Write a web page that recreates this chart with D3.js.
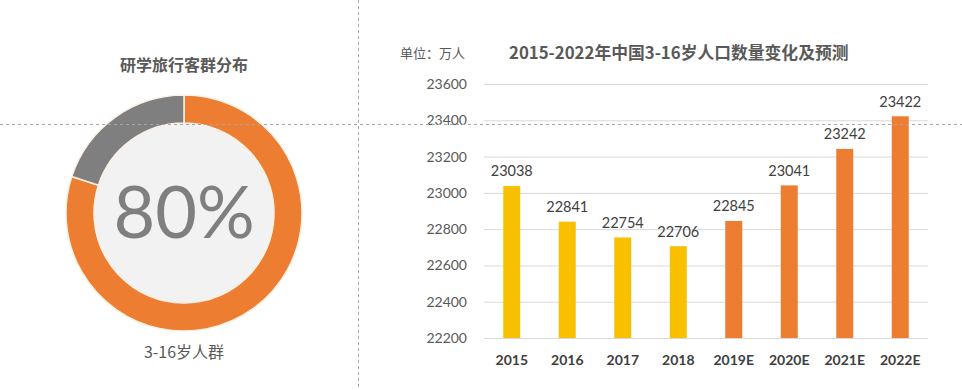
<!DOCTYPE html>
<html>
<head>
<meta charset="utf-8">
<script src="https://cdn.jsdelivr.net/npm/d3@7"></script>
<style>
  html, body { margin: 0; padding: 0; background: #fff; }
  svg { display: block; }
</style>
</head>
<body>
<div id="chart"></div>
<script>
// donut data
const donutLabels = ['3-16岁人群', '其他']
const donutValues = [80, 20]

// bar data
const years = ['2015', '2016', '2017', '2018', '2019E', '2020E', '2021E', '2022E']
const population = [23038, 22841, 22754, 22706, 22845, 23041, 23242, 23422]
const yTicks = [22200, 22400, 22600, 22800, 23000, 23200, 23400, 23600]

const width = 962
const height = 390
const cjk = '"Noto Sans CJK SC", "Microsoft YaHei", sans-serif'
const latin = 'Lato, "Noto Sans CJK SC", sans-serif'

const svg = d3.select('#chart').append('svg')
    .attr('width', width)
    .attr('height', height)

// ---- donut ----
const cx = 184, cy = 213
const outerR = 118, innerR = 90

const pie = d3.pie()
    .sort(null)
    .value(d => d)

const arc = d3.arc()
    .innerRadius(innerR)
    .outerRadius(outerR)

const donut = svg.append('g')
    .attr('transform', `translate(${ cx }, ${ cy })`)

donut.append('circle')
    .attr('r', innerR)
    .attr('fill', '#f2f2f2')

donut.selectAll('path')
    .data(pie(donutValues))
    .enter()
    .append('path')
    .attr('d', arc)
    .attr('fill', (d, i) => i === 0 ? '#ed7d31' : '#7f7f7f')
    .attr('stroke', '#fdf1e4')
    .attr('stroke-width', 1.5)

donut.append('text')
    .attr('text-anchor', 'middle')
    .attr('y', 25)
    .attr('font-family', latin)
    .attr('font-size', 72)
    .attr('fill', '#7f7f7f')
    .text(donutValues[0] + '%')

svg.append('text')
    .attr('x', cx)
    .attr('y', 71)
    .attr('text-anchor', 'middle')
    .attr('font-family', cjk)
    .attr('font-weight', 'bold')
    .attr('font-size', 16)
    .attr('fill', '#595959')
    .text('研学旅行客群分布')

svg.append('text')
    .attr('x', cx)
    .attr('y', 358)
    .attr('text-anchor', 'middle')
    .attr('font-family', cjk)
    .attr('font-size', 16)
    .attr('fill', '#595959')
    .text(donutLabels[0])

// ---- bar chart ----
const x = d3.scaleBand()
    .domain(years)
    .range([484, 928])
    .paddingInner(0.694)
    .paddingOuter(0.347)

const y = d3.scaleLinear()
    .domain([22200, 23600])
    .range([338, 84])

const yAxis = svg.append('g')
    .attr('transform', 'translate(484, 0)')
    .call(d3.axisLeft(y).tickValues(yTicks).tickSize(-444).tickPadding(17).tickFormat(d3.format('d')))

yAxis.select('.domain').remove()
yAxis.selectAll('line')
    .attr('stroke', '#d9d9d9')
yAxis.selectAll('text')
    .attr('font-family', latin)
    .attr('font-size', 14)
    .attr('fill', '#595959')

svg.append('g').selectAll('rect')
    .data(population)
    .enter()
    .append('rect')
    .attr('x', (d, i) => x(years[i]))
    .attr('width', x.bandwidth())
    .attr('y', d => y(d))
    .attr('height', d => y(22200) - y(d))
    .attr('fill', (d, i) => years[i].endsWith('E') ? '#ed7d31' : '#f9c000')

svg.append('g').selectAll('text')
    .data(population)
    .enter()
    .append('text')
    .attr('x', (d, i) => x(years[i]) + x.bandwidth() / 2)
    .attr('y', d => y(d) - 9.5)
    .attr('text-anchor', 'middle')
    .attr('font-family', latin)
    .attr('font-size', 14.5)
    .attr('fill', '#404040')
    .text(d => d)

const xAxis = svg.append('g')
    .attr('transform', 'translate(0, 338)')
    .call(d3.axisBottom(x).tickSize(0).tickPadding(17))

xAxis.select('.domain').remove()
xAxis.selectAll('text')
    .attr('font-family', latin)
    .attr('font-weight', 'bold')
    .attr('font-size', 14)
    .attr('fill', '#404040')

svg.append('text')
    .attr('x', 400)
    .attr('y', 58)
    .attr('font-family', cjk)
    .attr('font-size', 13)
    .attr('fill', '#595959')
    .text('单位：万人')

svg.append('text')
    .attr('x', 509)
    .attr('y', 59)
    .attr('font-family', cjk)
    .attr('font-weight', 'bold')
    .attr('font-size', 16.8)
    .attr('fill', '#595959')
    .text('2015-2022年中国3-16岁人口数量变化及预测')

// ---- dashed guide lines ----
svg.append('line')
    .attr('x1', 0).attr('x2', width)
    .attr('y1', 124.5).attr('y2', 124.5)
    .attr('stroke', '#a6a6a6')
    .attr('stroke-dasharray', '3,3')

svg.append('line')
    .attr('x1', 358.5).attr('x2', 358.5)
    .attr('y1', 0).attr('y2', height)
    .attr('stroke', '#a6a6a6')
    .attr('stroke-dasharray', '3,3')
</script>
</body>
</html>
